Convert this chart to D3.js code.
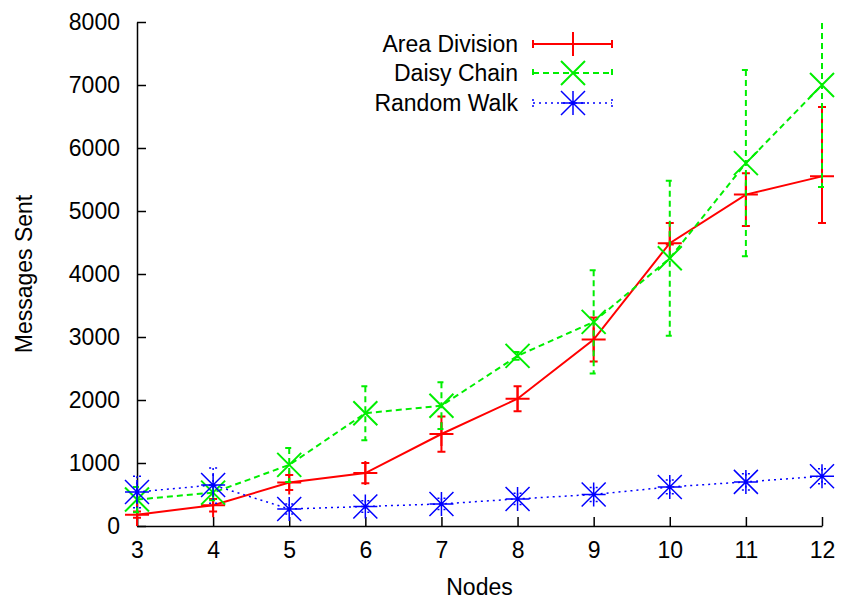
<!DOCTYPE html>
<html><head><meta charset="utf-8">
<script src="https://cdn.jsdelivr.net/npm/d3@7"></script>
<style>body{margin:0;background:#fff}svg{display:block}text{font-family:"Liberation Sans",Arial,sans-serif}</style>
</head><body><svg id="c" width="844" height="600"></svg>
<script>
const nodes = [3,4,5,6,7,8,9,10,11,12];
const yTicks = [0,1000,2000,3000,4000,5000,6000,7000,8000];
const areaDivision = [180,330,690,840,1460,2020,2960,4490,5260,5550];
const areaDivisionLow = [130,230,570,680,1180,1820,2610,4470,4760,4810];
const areaDivisionHigh = [230,430,810,1000,1740,2220,3310,4810,5600,6650];
const daisyChain = [420,530,970,1790,1910,2700,3240,4250,5760,7000];
const daisyChainLow = [220,410,700,1360,1540,2640,2420,3020,4280,5380];
const daisyChainHigh = [620,650,1240,2220,2280,2760,4060,5480,7240,8620];
const randomWalk = [540,650,270,310,350,430,500,620,700,790];
const randomWalkLow = [290,360,190,220,260,340,390,510,570,670];
const randomWalkHigh = [790,920,350,400,440,520,610,730,830,910];
const seriesNames = ["Area Division","Daisy Chain","Random Walk"];

const svg = d3.select("#c");
const L=137, R=822, T=22, B=526;
const FS = 23;
const x = d3.scaleLinear().domain([3,12]).range([L,R]);
const y = d3.scaleLinear().domain([0,8000]).range([B,T]);

const series = [
  {name:seriesNames[0], v:areaDivision, lo:areaDivisionLow, hi:areaDivisionHigh, color:"#ff0000", dash:null, w:2, marker:"plus"},
  {name:seriesNames[1], v:daisyChain, lo:daisyChainLow, hi:daisyChainHigh, color:"#00ee00", dash:"6,4", w:2, marker:"x"},
  {name:seriesNames[2], v:randomWalk, lo:randomWalkLow, hi:randomWalkHigh, color:"#0000ff", dash:"2,4", w:1.5, marker:"star"}
];

svg.append("defs").append("clipPath").attr("id","clip").append("rect")
  .attr("x",L-20).attr("y",T-1).attr("width",R-L+40).attr("height",B-T+1);

// axes
const yAxis = svg.append("g").attr("transform",`translate(${L},0)`)
  .call(d3.axisLeft(y).tickValues(yTicks).tickFormat(d3.format("d")).tickSizeInner(-9).tickSizeOuter(0).tickPadding(17));
const xAxis = svg.append("g").attr("transform",`translate(0,${B})`)
  .call(d3.axisBottom(x).tickValues(nodes).tickFormat(d3.format("d")).tickSizeInner(-9).tickSizeOuter(0).tickPadding(16));
[yAxis,xAxis].forEach(g=>{
  g.selectAll("text").attr("font-size",FS).attr("fill","#000").attr("font-family","Liberation Sans, Arial, sans-serif");
  g.selectAll("line").attr("stroke","#000").attr("stroke-width",1.5);
  g.select(".domain").attr("stroke","#000").attr("stroke-width",1.5);
});
xAxis.selectAll("text").attr("dy","0.71em");

svg.append("text").attr("x",(L+R)/2).attr("y",595).attr("text-anchor","middle").attr("font-size",FS).text("Nodes");
svg.append("text").attr("transform",`translate(32,${(T+B)/2}) rotate(-90)`).attr("text-anchor","middle").attr("font-size",FS).text("Messages Sent");

function drawMarker(g, type, cx, cy, color, s){
  const p = d3.path();
  if(type==="plus"||type==="star"){ p.moveTo(cx-s,cy); p.lineTo(cx+s,cy); p.moveTo(cx,cy-s); p.lineTo(cx,cy+s); }
  if(type==="x"||type==="star"){ p.moveTo(cx-s,cy-s); p.lineTo(cx+s,cy+s); p.moveTo(cx-s,cy+s); p.lineTo(cx+s,cy-s); }
  g.append("path").attr("d",p.toString()).attr("stroke",color).attr("stroke-width",type==="star"?1.5:2).attr("fill","none");
}

const plot = svg.append("g").attr("clip-path","url(#clip)");
series.forEach(s=>{
  const g = plot.append("g");
  s.v.forEach((v,i)=>{
    const cx = x(nodes[i]), y1=y(s.hi[i]), y0=y(s.lo[i]);
    const p=d3.path(); p.moveTo(cx,y1); p.lineTo(cx,y0);
    p.moveTo(cx-4,y1); p.lineTo(cx+4,y1); p.moveTo(cx-4,y0); p.lineTo(cx+4,y0);
    g.append("path").attr("d",p.toString()).attr("stroke",s.color).attr("stroke-width",s.w)
      .attr("stroke-dasharray",s.dash).attr("fill","none");
  });
  g.append("path").datum(s.v).attr("d",d3.line().x((d,i)=>x(nodes[i])).y(d=>y(d)))
    .attr("stroke",s.color).attr("stroke-width",s.w).attr("stroke-dasharray",s.dash).attr("fill","none");
  s.v.forEach((v,i)=>drawMarker(g,s.marker,x(nodes[i]),y(v),s.color,12));
});

// legend
const legY=[44,73,103];
series.forEach((s,i)=>{
  const ly = legY[i];
  svg.append("text").attr("x",518).attr("y",ly).attr("dy","0.35em").attr("text-anchor","end").attr("font-size",FS).text(s.name);
  const p=d3.path(); p.moveTo(533,ly); p.lineTo(612,ly); p.moveTo(533,ly-4); p.lineTo(533,ly+4); p.moveTo(612,ly-4); p.lineTo(612,ly+4);
  svg.append("path").attr("d",p.toString()).attr("stroke",s.color).attr("stroke-width",s.w).attr("stroke-dasharray",s.dash).attr("fill","none");
  drawMarker(svg,s.marker,573,ly,s.color,12);
});
</script></body></html>
